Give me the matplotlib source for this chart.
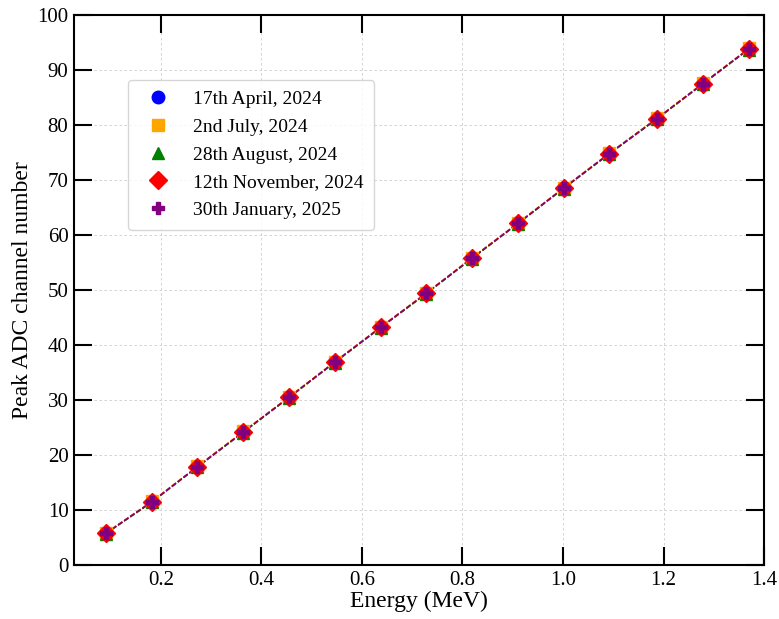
"""Peak ADC channel vs energy calibration across measurement dates."""

import matplotlib

matplotlib.use("Agg")
import matplotlib.pyplot as plt

plt.rcParams["font.family"] = ["Liberation Serif", "DejaVu Serif"]
plt.rcParams["mathtext.fontset"] = "stix"

energy = [0.091, 0.182, 0.273, 0.364, 0.455, 0.546, 0.637, 0.728,
          0.819, 0.910, 1.001, 1.092, 1.186, 1.278, 1.369]

adc_apr = [5.8, 11.5, 17.9, 24.2, 30.5, 36.9, 43.2, 49.4, 55.8, 62.1, 68.5, 74.8, 81.1, 87.5, 93.8]
adc_jul = [5.9, 11.6, 18.0, 24.3, 30.6, 37.0, 43.3, 49.5, 55.9, 62.2, 68.6, 74.9, 81.2, 87.6, 93.9]
adc_aug = [5.7, 11.4, 17.8, 24.1, 30.4, 36.8, 43.1, 49.3, 55.7, 62.0, 68.4, 74.7, 81.0, 87.4, 93.7]
adc_nov = [5.8, 11.5, 17.9, 24.2, 30.5, 36.9, 43.2, 49.4, 55.8, 62.1, 68.5, 74.8, 81.1, 87.5, 93.8]
adc_jan = [5.8, 11.5, 17.9, 24.2, 30.5, 36.9, 43.2, 49.4, 55.8, 62.1, 68.5, 74.8, 81.1, 87.5, 93.8]

labels = ["17th April, 2024", "2nd July, 2024", "28th August, 2024",
          "12th November, 2024", "30th January, 2025"]
series = [adc_apr, adc_jul, adc_aug, adc_nov, adc_jan]
colors = ["blue", "orange", "green", "red", "purple"]
markers = ["o", "s", "^", "D", "P"]
msizes = [9, 9, 9, 9, 9]

fig = plt.figure(figsize=(7.79, 6.19), dpi=100)
ax = fig.add_axes([0.095, 0.087, 0.886, 0.889])

for y, lab, c, m, ms in zip(series, labels, colors, markers, msizes):
    ax.plot(energy, y, linestyle="--", color=c, linewidth=1.0, zorder=2)
    ax.plot(energy, y, linestyle="none", marker=m, color=c, markersize=ms,
            label=lab, zorder=3)

ax.set_xlim(0.0275, 1.4)
ax.set_ylim(0, 100)
ax.set_xticks([0.2, 0.4, 0.6, 0.8, 1.0, 1.2, 1.4])
ax.set_yticks(range(0, 101, 10))
ax.set_xlabel("Energy (MeV)", fontsize=17, labelpad=1)
ax.set_ylabel("Peak ADC channel number", fontsize=17, labelpad=3)

ax.tick_params(axis="both", which="major", direction="in", length=13, width=1.5,
               labelsize=15, top=True, right=True, pad=4)
for spine in ax.spines.values():
    spine.set_linewidth(1.5)

ax.grid(True, linestyle="--", linewidth=0.6, color="#cccccc", dashes=(3, 3))
ax.set_axisbelow(True)

ax.legend(loc="upper left", bbox_to_anchor=(0.078, 0.882), fontsize=14,
          frameon=True, borderpad=0.55, labelspacing=0.52, handletextpad=0.8,
          borderaxespad=0)

fig.savefig("out.png", dpi=100)
plt.close(fig)
